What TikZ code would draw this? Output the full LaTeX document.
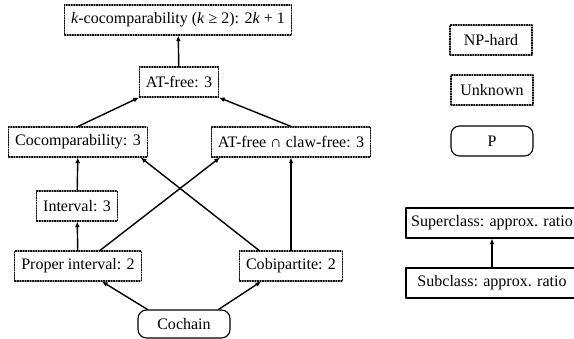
\documentclass[tikz,border=0pt]{standalone}
\usepackage{fontspec}
\setmainfont{Liberation Serif}
\usetikzlibrary{arrows.meta}
\begin{document}
\begin{tikzpicture}[font=\fontsize{11.4}{13}\selectfont, line join=round, line cap=round,
 >={Latex[length=4pt,width=3.5pt]},
 cls/.style={draw, densely dotted, line width=.8pt, minimum height=.75cm, inner xsep=.16cm},
 unk/.style={cls},
 poly/.style={draw, line width=.8pt, rounded corners=6pt, minimum height=.75cm, inner xsep=.18cm},
 legend/.style={draw, line width=.8pt, minimum height=.75cm, minimum width=4.3cm},
 edge/.style={->, line width=1pt}]
 \useasboundingbox (0,0) rectangle (14.35,8.45);
 % hierarchy
 \node[cls] (kcc) at (4.45,7.95) {\textit{k}-cocomparability (\textit{k} ≥ 2): 2\textit{k} + 1};
 \node[unk] (atf) at (4.475,6.4) {AT-free: 3};
 \node[cls] (cocomp) at (1.95,4.9) {Cocomparability: 3};
 \node[cls] (atclaw) at (7.275,4.9) {AT-free ∩ claw-free: 3};
 \node[cls] (intv) at (1.925,3.3) {Interval: 3};
 \node[cls] (pint) at (1.95,1.8) {Proper interval: 2};
 \node[cls] (cobip) at (7.275,1.8) {Cobipartite: 2};
 \node[poly, minimum height=.7cm, minimum width=2.3cm] (cochain) at (4.6,.35) {Cochain};
 % legend
 \node[cls, minimum width=2.05cm] (np) at (12.275,7.45) {NP-hard};
 \node[unk, minimum width=2.05cm] (unkn) at (12.3,6.2) {Unknown};
 \node[poly, minimum width=2.05cm] (pp) at (12.3,4.925) {P};
 \node[legend] (sup) at (12.3,2.875) {Superclass: approx. ratio};
 \node[legend] (sub) at (12.3,1.375) {Subclass: approx. ratio};
 % edges
 \draw[edge] (atf) -- (kcc);
 \draw[edge] (cocomp.north) -- (atf.south west);
 \draw[edge] (atclaw.north) -- (atf.south east);
 \draw[edge] (intv) -- (cocomp);
 \draw[edge] (pint) -- (intv);
 \draw[edge] ([xshift=.55cm]pint.north) -- ([xshift=.225cm]atclaw.south west);
 \draw[edge] ([xshift=.5cm]cobip.north west) -- ([xshift=-.175cm]cocomp.south east);
 \draw[edge] (cobip) -- (atclaw);
 \draw[edge] ([xshift=.25cm]cochain.north west) -- ([xshift=.6cm]pint.south);
 \draw[edge] ([xshift=-.3cm]cochain.north east) -- ([xshift=.55cm]cobip.south west);
 \draw[edge] (sub) -- (sup);
\end{tikzpicture}
\end{document}
